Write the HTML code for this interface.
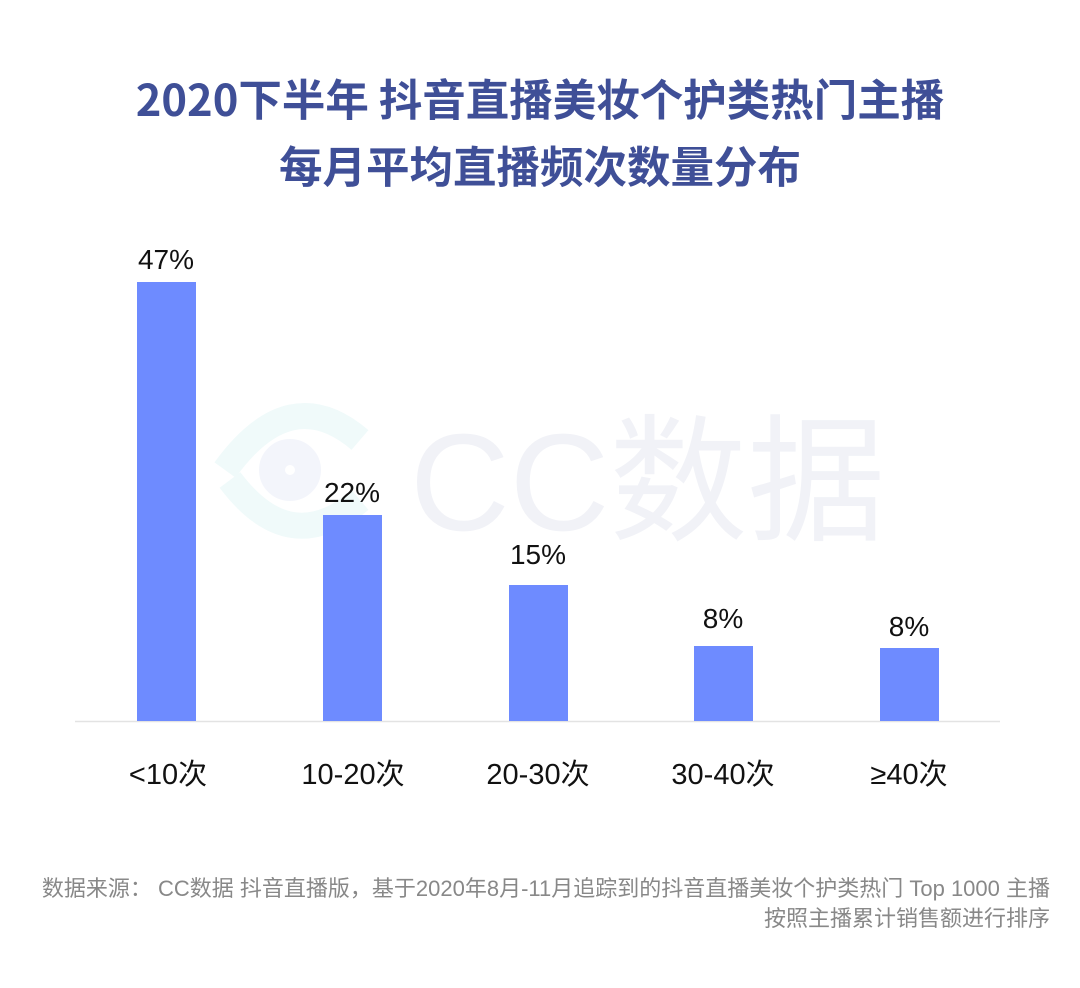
<!DOCTYPE html>
<html><head><meta charset="utf-8"><style>
body{margin:0;width:1080px;height:988px;background:#fff;position:relative;overflow:hidden;font-family:"Liberation Sans","Noto Sans CJK SC",sans-serif}
.t{position:absolute;left:0;width:1080px;text-align:center;color:#3f4f97;font-weight:bold;font-size:43.5px;font-family:"Noto Sans CJK SC",sans-serif}
.bar{position:absolute;background:#6e8bff;width:59px}
.v{position:absolute;width:160px;text-align:center;font-size:28px;color:#111}
.c{position:absolute;width:200px;text-align:center;font-size:29px;color:#111;top:751px}
.f{position:absolute;right:30px;font-size:22px;color:#888;text-align:right;white-space:nowrap}
</style></head><body>
<div class="t" style="top:66px">2020下半年 抖音直播美妆个护类热门主播</div>
<div class="t" style="top:133px">每月平均直播频次数量分布</div>
<svg style="position:absolute;left:0;top:0" width="1080" height="988">
<g fill="none" stroke="#f0fafa" stroke-width="26"><path d="M225 470 Q290 380 360 440"/><path d="M230 480 Q290 560 360 500"/><circle cx="290" cy="470" r="18" stroke="#f3f5fb"/></g>
<text x="410" y="530" font-size="138" fill="#f1f2f7" font-family="Liberation Sans,Noto Sans CJK SC,sans-serif">CC数据</text>
<line x1="75" y1="721.5" x2="1000" y2="721.5" stroke="#e3e3e3" stroke-width="1.5"/>
</svg>
<div class="bar" style="left:137px;top:282px;height:439px"></div>
<div class="bar" style="left:323px;top:515px;height:206px"></div>
<div class="bar" style="left:509px;top:585px;height:136px"></div>
<div class="bar" style="left:694px;top:646px;height:75px"></div>
<div class="bar" style="left:880px;top:648px;height:73px"></div>
<div class="v" style="left:86px;top:244px">47%</div>
<div class="v" style="left:272px;top:477px">22%</div>
<div class="v" style="left:458px;top:539px">15%</div>
<div class="v" style="left:643px;top:603px">8%</div>
<div class="v" style="left:829px;top:611px">8%</div>
<div class="c" style="left:68px">&lt;10次</div>
<div class="c" style="left:253px">10-20次</div>
<div class="c" style="left:438px">20-30次</div>
<div class="c" style="left:623px">30-40次</div>
<div class="c" style="left:809px">≥40次</div>
<div class="f" style="top:871px">数据来源： CC数据 抖音直播版，基于2020年8月-11月追踪到的抖音直播美妆个护类热门 Top 1000 主播</div>
<div class="f" style="top:901px">按照主播累计销售额进行排序</div>
</body></html>
